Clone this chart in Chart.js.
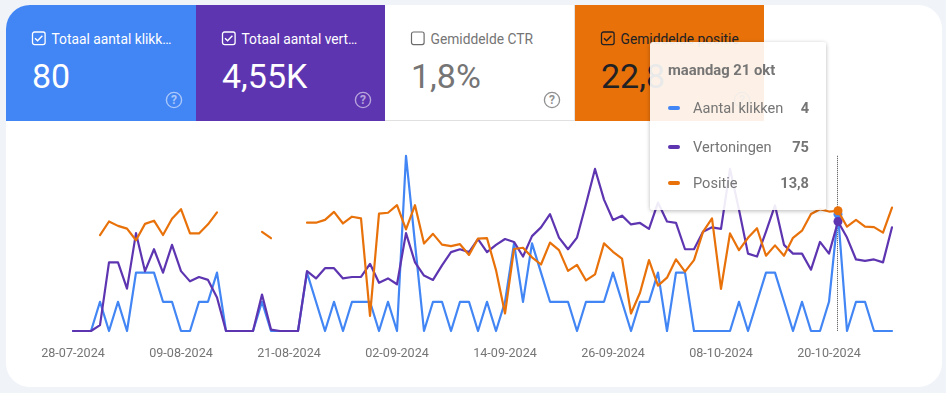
<!DOCTYPE html>
<html lang="nl">
<head>
<meta charset="utf-8">
<script src="https://cdn.jsdelivr.net/npm/chart.js@4"></script>
<style>
html,body{margin:0;padding:0;width:946px;height:393px;overflow:hidden;background:#f0f4f9;font-family:Roboto,sans-serif;}
#card{position:absolute;left:6px;top:5px;width:936px;height:382px;background:#fff;border-radius:24px;overflow:hidden;}
.tab{position:absolute;top:0;height:116px;box-sizing:border-box;}
.tab .lbl{position:absolute;left:45.5px;top:25px;font-size:13.8px;line-height:18px;white-space:nowrap;}
.tab .val{position:absolute;left:26px;top:49px;font-size:34px;line-height:44px;}
.tab svg.cb{position:absolute;left:25px;top:25px;}
.tab svg.hp{position:absolute;top:85px;}
#rule{position:absolute;left:379px;top:115px;width:190px;height:1px;background:#e0e0e0;}
#sep{position:absolute;left:568px;top:0;width:1px;height:116px;background:#e0e0e0;}
canvas{position:absolute;left:0;top:0;}
#tip{position:absolute;left:650px;top:42px;width:176px;height:168px;background:rgba(255,255,255,.9);border-radius:3px;box-shadow:0 1px 4px rgba(0,0,0,.28);color:#757575;}
#tip .h{position:absolute;left:18px;top:19px;font-size:14.8px;line-height:18px;font-weight:700;}
#tip .r{position:absolute;left:0;width:176px;height:20px;font-size:14.6px;line-height:20px;}
#tip .m{position:absolute;left:18px;top:8px;width:12px;height:4px;border-radius:2px;}
#tip .n{position:absolute;left:43px;top:0;}
#tip .v{position:absolute;right:17px;top:0;font-weight:700;}
</style>
</head>
<body>
<div id="card">
  <div class="tab" style="left:0;width:190px;background:#4285f4;color:#fff;">
    <svg class="cb" width="16" height="16" viewBox="0 0 16 16"><rect x="1.5" y="2" width="12.6" height="12.6" rx="2" fill="none" stroke="#fff" stroke-width="1.3"/><path d="M4 8.2l2.6 2.6 4.8-5" fill="none" stroke="#fff" stroke-width="1.4"/></svg>
    <div class="lbl">Totaal aantal klikk…</div><div class="val">80</div>
    <svg class="hp" style="left:158px" width="20" height="20" viewBox="0 0 20 20" opacity=".55"><circle cx="10" cy="10" r="7.6" fill="none" stroke="#fff" stroke-width="1.4"/><text x="10" y="14" text-anchor="middle" font-size="12" font-weight="700" font-family="Roboto" fill="#fff">?</text></svg>
  </div>
  <div class="tab" style="left:190px;width:189px;background:#5e35b1;color:#fff;">
    <svg class="cb" width="16" height="16" viewBox="0 0 16 16"><rect x="1.5" y="2" width="12.6" height="12.6" rx="2" fill="none" stroke="#fff" stroke-width="1.3"/><path d="M4 8.2l2.6 2.6 4.8-5" fill="none" stroke="#fff" stroke-width="1.4"/></svg>
    <div class="lbl">Totaal aantal vert…</div><div class="val">4,55K</div>
    <svg class="hp" style="left:157px" width="20" height="20" viewBox="0 0 20 20" opacity=".55"><circle cx="10" cy="10" r="7.6" fill="none" stroke="#fff" stroke-width="1.4"/><text x="10" y="14" text-anchor="middle" font-size="12" font-weight="700" font-family="Roboto" fill="#fff">?</text></svg>
  </div>
  <div class="tab" style="left:379px;width:190px;color:#757575;">
    <svg class="cb" width="16" height="16" viewBox="0 0 16 16"><rect x="1.5" y="2" width="12.6" height="12.6" rx="2" fill="none" stroke="#6b6b6b" stroke-width="1.2"/></svg>
    <div class="lbl">Gemiddelde CTR</div><div class="val">1,8%</div>
    <svg class="hp" style="left:157px" width="20" height="20" viewBox="0 0 20 20" opacity=".8"><circle cx="10" cy="10" r="7.6" fill="none" stroke="#757575" stroke-width="1.3"/><text x="10" y="14" text-anchor="middle" font-size="12" font-weight="700" font-family="Roboto" fill="#757575">?</text></svg>
  </div>
  <div class="tab" style="left:569px;width:189px;background:#e8710a;color:#202124;">
    <svg class="cb" width="16" height="16" viewBox="0 0 16 16"><rect x="1.5" y="2" width="12.6" height="12.6" rx="2" fill="none" stroke="#202124" stroke-width="1.3"/><path d="M4 8.2l2.6 2.6 4.8-5" fill="none" stroke="#202124" stroke-width="1.4"/></svg>
    <div class="lbl">Gemiddelde positie</div><div class="val">22,8</div>
    <svg class="hp" style="left:157px" width="20" height="20" viewBox="0 0 20 20" opacity=".55"><circle cx="10" cy="10" r="7.6" fill="none" stroke="#202124" stroke-width="1.4"/><text x="10" y="14" text-anchor="middle" font-size="12" font-weight="700" font-family="Roboto" fill="#202124">?</text></svg>
  </div>
  <div id="rule"></div><div id="sep"></div>
</div>
<canvas id="c" width="946" height="393"></canvas>
<div id="tip">
  <div class="h" id="tipDate"></div>
  <div class="r" style="top:56px"><span class="m" style="background:#4285f4"></span><span class="n" id="n0"></span><span class="v" id="v0"></span></div>
  <div class="r" style="top:95px"><span class="m" style="background:#5e35b1"></span><span class="n" id="n1"></span><span class="v" id="v1"></span></div>
  <div class="r" style="top:131px"><span class="m" style="background:#e8710a"></span><span class="n" id="n2"></span><span class="v" id="v2"></span></div>
</div>
<script>
const categories = [
"28-07-2024","29-07-2024","30-07-2024","31-07-2024",
"01-08-2024","02-08-2024","03-08-2024","04-08-2024","05-08-2024","06-08-2024","07-08-2024","08-08-2024","09-08-2024","10-08-2024",
"11-08-2024","12-08-2024","13-08-2024","14-08-2024","15-08-2024","16-08-2024","17-08-2024","18-08-2024","19-08-2024","20-08-2024",
"21-08-2024","22-08-2024","23-08-2024","24-08-2024","25-08-2024","26-08-2024","27-08-2024","28-08-2024","29-08-2024","30-08-2024","31-08-2024",
"01-09-2024","02-09-2024","03-09-2024","04-09-2024","05-09-2024","06-09-2024","07-09-2024","08-09-2024","09-09-2024","10-09-2024",
"11-09-2024","12-09-2024","13-09-2024","14-09-2024","15-09-2024","16-09-2024","17-09-2024","18-09-2024","19-09-2024","20-09-2024",
"21-09-2024","22-09-2024","23-09-2024","24-09-2024","25-09-2024","26-09-2024","27-09-2024","28-09-2024","29-09-2024","30-09-2024",
"01-10-2024","02-10-2024","03-10-2024","04-10-2024","05-10-2024","06-10-2024","07-10-2024","08-10-2024","09-10-2024","10-10-2024",
"11-10-2024","12-10-2024","13-10-2024","14-10-2024","15-10-2024","16-10-2024","17-10-2024","18-10-2024","19-10-2024","20-10-2024",
"21-10-2024","22-10-2024","23-10-2024","24-10-2024","25-10-2024","26-10-2024","27-10-2024"];
const tickLabels = ["28-07-2024","09-08-2024","21-08-2024","02-09-2024","14-09-2024","26-09-2024","08-10-2024","20-10-2024"];
const clicks = [
0,0,0,1,0,1,0,2,2,2,
1,1,0,0,1,1,2,0,0,0,
0,1,0,0,0,0,2,1,0,1,
0,1,1,1,0,1,0,6,3,0,
1,1,0,1,1,0,1,0,1,3,
1,3,2,1,1,1,0,1,1,1,
2,1,0,1,1,2,0,2,2,0,
0,0,0,0,1,0,1,2,2,1,
0,1,0,0,1,4,0,1,1,0,0,0];
const impressions = [
0,0,0,4,47,47,29,67,41,56,
40,59,41,34,37,35,23,0,0,0,
0,25,1,0,0,0,41,36,43,43,
36,37,37,46,33,36,32,67,47,38,
35,45,54,56,54,63,54,59,63,61,
51,65,71,80,64,56,64,87,111,90,
76,79,73,74,70,88,75,74,56,56,
68,71,70,111,83,53,51,68,86,59,
53,53,42,61,53,75,64,49,48,49,47,71];
const position = [
null,null,null,19.9,16.5,17.6,18.3,21.2,17.1,16.3,
19.9,15.8,13.4,19.5,19.5,17.2,14.2,null,null,null,
null,19.1,20.7,null,null,null,16.8,16.8,16.1,14.1,
17.0,15.3,15.7,40.2,14.5,14.3,12.4,18.5,12.4,22.0,
19.6,22.3,22.7,22.2,24.9,20.8,20.7,28.7,39.6,23.4,
23.1,25.5,27.3,21.8,23.7,28.9,27.4,31.3,29.8,22.0,
24.1,25.8,39.6,34.4,26.2,32.6,30.6,26.0,29.1,26.2,
19.1,15.7,33.4,19.5,23.7,20.6,18.2,25.1,22.5,25.1,
20.6,18.8,14.6,13.4,14.0,13.8,17.8,16.1,17.8,17.9,19.3,13.0];
const seriesNames = ["Aantal klikken","Vertoningen","Positie"];
const hoverIndex = categories.indexOf("21-10-2024");
const hoverDate = "maandag 21 okt";

document.getElementById('tipDate').textContent = hoverDate;
seriesNames.forEach((s,i)=>{document.getElementById('n'+i).textContent=s;});
document.getElementById('v0').textContent = clicks[hoverIndex];
document.getElementById('v1').textContent = impressions[hoverIndex];
document.getElementById('v2').textContent = String(position[hoverIndex]).replace('.',',');

const hoverLine = {
  id:'hoverLine',
  beforeDatasetsDraw(chart){
    const {ctx,scales:{x},chartArea:a}=chart;
    const px=Math.round(x.getPixelForValue(hoverIndex))-0.5;
    ctx.save();ctx.strokeStyle='#4a4a4a';ctx.lineWidth=1;ctx.setLineDash([1,1]);
    ctx.beginPath();ctx.moveTo(px,a.top);ctx.lineTo(px,a.bottom);ctx.stroke();ctx.restore();
  }
};
const dot = c => ({
  borderWidth:2.2,tension:0,spanGaps:false,clip:false,
  pointRadius:ctx=>ctx.dataIndex===hoverIndex?4.5:0,
  pointHoverRadius:0,pointBorderWidth:0,
  borderColor:c,backgroundColor:c,pointBackgroundColor:c,borderJoinStyle:'round',borderCapStyle:'round'
});
new Chart(document.getElementById('c'),{
  type:'line',
  plugins:[hoverLine],
  data:{labels:categories,datasets:[
    {label:seriesNames[2],data:position,yAxisID:'yPos',order:1,...dot('#e8710a')},
    {label:seriesNames[1],data:impressions,yAxisID:'yImp',order:2,...dot('#5e35b1')},
    {label:seriesNames[0],data:clicks,yAxisID:'yClk',order:3,...dot('#4285f4')}
  ]},
  options:{
    responsive:false,animation:false,events:[],
    layout:{autoPadding:false,padding:{left:73,right:54,top:155.8,bottom:0}},
    plugins:{legend:{display:false},tooltip:{enabled:false}},
    scales:{
      x:{type:'category',offset:false,grid:{display:false},border:{display:false},
        afterFit(s){s.height=62;},
        ticks:{autoSkip:false,maxRotation:0,minRotation:0,padding:7,color:'#757575',
          font:{family:'Roboto',size:12.6},
          callback(v){const l=this.getLabelForValue(v);return tickLabels.includes(l)?l:'';}}},
      yClk:{display:false,min:0,max:6},
      yImp:{display:false,min:0,max:120},
      yPos:{display:false,min:0,max:44,reverse:true}
    }
  }
});
</script>
</body>
</html>
